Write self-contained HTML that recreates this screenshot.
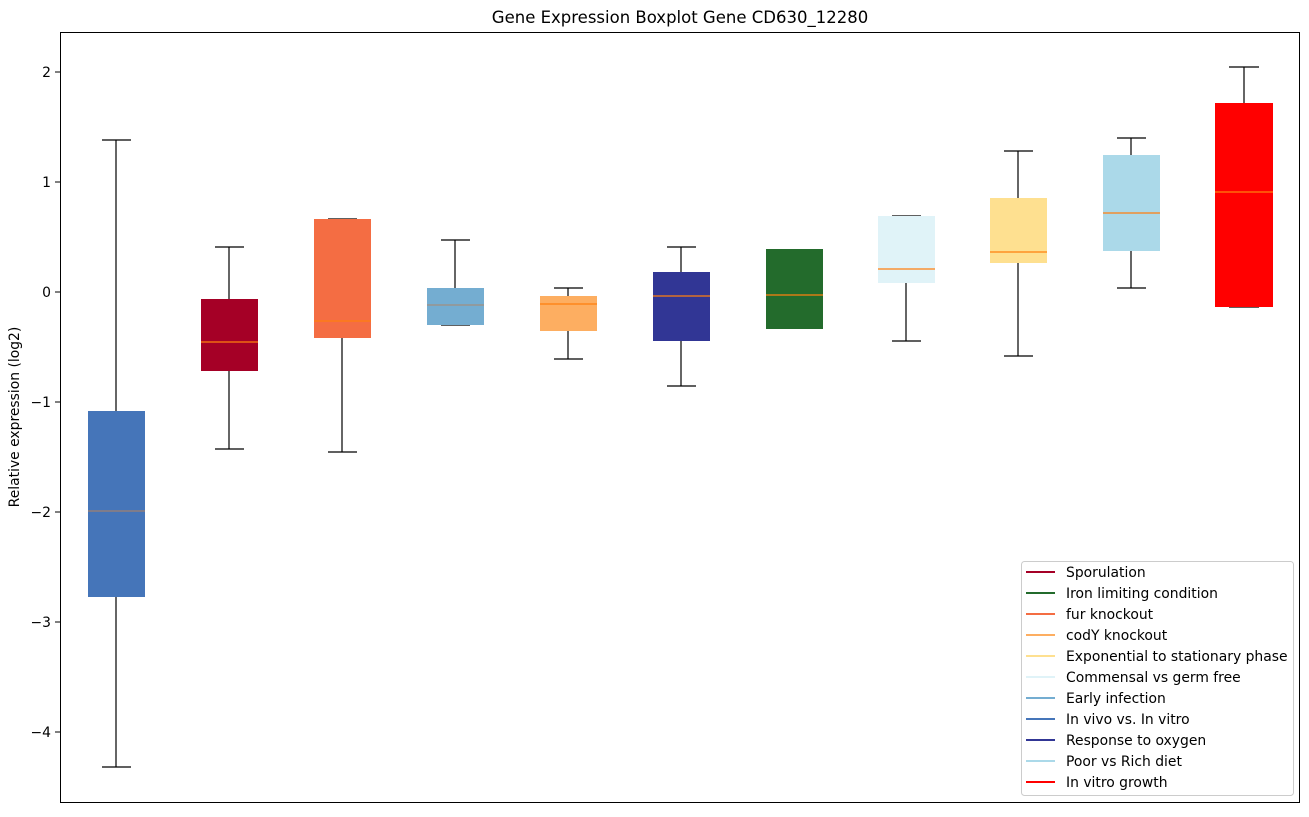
<!DOCTYPE html>
<html><head><meta charset="utf-8"><style>body{margin:0;background:#fff}</style></head><body>
<svg width="1309" height="812" xmlns="http://www.w3.org/2000/svg" font-family="DejaVu Sans, Liberation Sans, sans-serif">
<rect width="1309" height="812" fill="#fff"/>
<text x="680" y="23" font-size="16.5" text-anchor="middle">Gene Expression Boxplot Gene CD630_12280</text>
<g font-size="13.9" text-anchor="end" fill="#000">
<text x="51" y="77">2</text><text x="51" y="187">1</text><text x="51" y="297">0</text>
<text x="51" y="407">−1</text><text x="51" y="517">−2</text><text x="51" y="627">−3</text><text x="51" y="737">−4</text>
</g>
<g stroke="#000"><line x1="55" y1="72" x2="60" y2="72"/><line x1="55" y1="182" x2="60" y2="182"/><line x1="55" y1="292" x2="60" y2="292"/><line x1="55" y1="402" x2="60" y2="402"/><line x1="55" y1="512" x2="60" y2="512"/><line x1="55" y1="622" x2="60" y2="622"/><line x1="55" y1="732" x2="60" y2="732"/></g>
<text transform="translate(19,417) rotate(-90)" font-size="13.9" text-anchor="middle">Relative expression (log2)</text>
<g stroke="#000" stroke-width="1.2" fill="none">
<path d="M116 140V411M116 597V767M102 140H131M102 767H131"/>
<path d="M229 247V299M229 371V449M215 247H244M215 449H244"/>
<path d="M342 338V452M328 219H357M328 452H357"/>
<path d="M455 240V288M441 240H470M441 325H470"/>
<path d="M568 288V296M568 331V359M554 288H583M554 359H583"/>
<path d="M681 247V272M681 341V386M667 247H696M667 386H696"/>
<path d="M906 283V341M892 216H921M892 341H921"/>
<path d="M1018 151V198M1018 263V356M1004 151H1033M1004 356H1033"/>
<path d="M1131 138V155M1131 251V288M1117 138H1146M1117 288H1146"/>
<path d="M1244 67V103M1229 67H1259M1229 307H1259"/>
</g>
<g>
<rect x="88" y="411" width="57" height="186" fill="#4575b9"/>
<rect x="201" y="299" width="57" height="72" fill="#a50026"/>
<rect x="314" y="219" width="57" height="119" fill="#f46d43"/>
<rect x="427" y="288" width="57" height="37" fill="#74add1"/>
<rect x="540" y="296" width="57" height="35" fill="#fdae61"/>
<rect x="653" y="272" width="57" height="69" fill="#313695"/>
<rect x="766" y="249" width="57" height="80" fill="#236b2c"/>
<rect x="878" y="216" width="57" height="67" fill="#e0f3f8"/>
<rect x="990" y="198" width="57" height="65" fill="#fee090"/>
<rect x="1103" y="155" width="57" height="96" fill="#abd9e9"/>
<rect x="1215" y="103" width="58" height="204" fill="#ff0000"/>
</g>
<g stroke="#ff7f0e" stroke-width="1.2">
<line x1="88" y1="511" x2="145" y2="511" stroke="#a08070"/>
<line x1="201" y1="342" x2="258" y2="342"/>
<line x1="314" y1="321" x2="371" y2="321"/>
<line x1="427" y1="305" x2="484" y2="305" stroke="#a09080"/>
<line x1="540" y1="304" x2="597" y2="304"/>
<line x1="653" y1="296" x2="710" y2="296"/>
<line x1="766" y1="295" x2="823" y2="295"/>
<line x1="878" y1="269" x2="935" y2="269"/>
<line x1="990" y1="252" x2="1047" y2="252"/>
<line x1="1103" y1="213" x2="1160" y2="213"/>
<line x1="1215" y1="192" x2="1273" y2="192"/>
</g>
<rect x="60.5" y="32.5" width="1239" height="770" fill="none" stroke="#000"/>
<rect x="1021.5" y="561.5" width="272" height="234" rx="3" fill="#fff" fill-opacity="0.85" stroke="#ccc"/>
<g stroke-width="2">
<line x1="1026" y1="572" x2="1055" y2="572" stroke="#a50026"/>
<line x1="1026" y1="593" x2="1055" y2="593" stroke="#236b2c"/>
<line x1="1026" y1="614" x2="1055" y2="614" stroke="#f46d43"/>
<line x1="1026" y1="635" x2="1055" y2="635" stroke="#fdae61"/>
<line x1="1026" y1="656" x2="1055" y2="656" stroke="#fee090"/>
<line x1="1026" y1="677" x2="1055" y2="677" stroke="#e0f3f8"/>
<line x1="1026" y1="698" x2="1055" y2="698" stroke="#74add1"/>
<line x1="1026" y1="719" x2="1055" y2="719" stroke="#4575b9"/>
<line x1="1026" y1="740" x2="1055" y2="740" stroke="#313695"/>
<line x1="1026" y1="761" x2="1055" y2="761" stroke="#abd9e9"/>
<line x1="1026" y1="782" x2="1055" y2="782" stroke="#ff0000"/>
</g>
<g font-size="13.9">
<text x="1066" y="577">Sporulation</text>
<text x="1066" y="598">Iron limiting condition</text>
<text x="1066" y="619">fur knockout</text>
<text x="1066" y="640">codY knockout</text>
<text x="1066" y="661">Exponential to stationary phase</text>
<text x="1066" y="682">Commensal vs germ free</text>
<text x="1066" y="703">Early infection</text>
<text x="1066" y="724">In vivo vs. In vitro</text>
<text x="1066" y="745">Response to oxygen</text>
<text x="1066" y="766">Poor vs Rich diet</text>
<text x="1066" y="787">In vitro growth</text>
</g>
</svg>
</body></html>
